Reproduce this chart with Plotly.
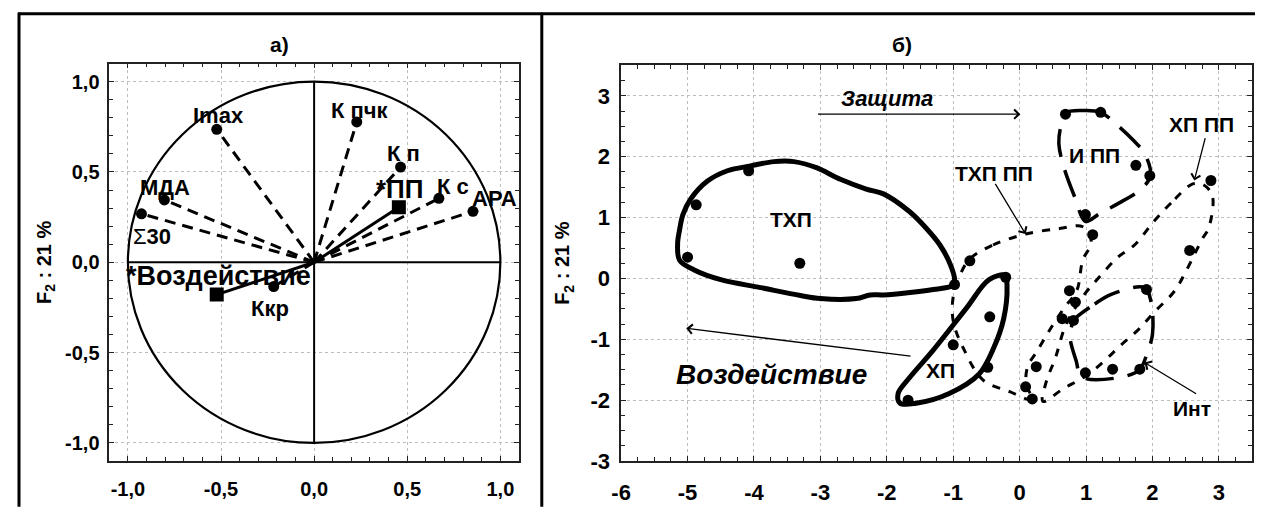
import plotly.graph_objects as go

# The page body has an 8px margin, so the figure is drawn 8px in and 8px down.
OFF = 8
W, H = 1263 - OFF, 513 - OFF
FONT = "Liberation Sans, Arial, sans-serif"

# ---------------- Left panel (a): correlation circle ----------------
var_names = ["Imax", "МДА", "Σ30", "К пчк", "К п", "К с", "АРА", "Ккр"]
var_x = [-0.523, -0.804, -0.927, 0.229, 0.464, 0.670, 0.853, -0.217]
var_y = [0.736, 0.345, 0.268, 0.777, 0.527, 0.354, 0.282, -0.134]
var_lab_x = [-0.514, -0.80, -0.87, 0.248, 0.48, 0.745, 0.967, -0.235]
var_lab_y = [0.81, 0.416, 0.143, 0.84, 0.60, 0.42, 0.354, -0.254]

sup_names = ["*ПП", "*Воздействие"]
sup_x = [0.455, -0.523]
sup_y = [0.304, -0.179]
sup_lab_x = [0.459, -0.514]
sup_lab_y = [0.405, -0.077]

left_ticks = [-1.0, -0.5, 0.0, 0.5, 1.0]
left_ticktext = ["-1,0", "-0,5", "0,0", "0,5", "1,0"]

# ---------------- Right panel (б): factor scores ----------------
pts_x = [-5.0, -4.87, -4.08, -3.31, -0.98, -0.75, -0.21, -0.45, -1.0, -0.48, -1.68,
         0.09, 0.19, 0.25, 0.64, 0.81, 0.84, 0.75, 0.99, 1.4, 1.81, 1.91, 2.56, 2.88,
         1.75, 1.96, 0.69, 1.22, 0.99, 1.1]
pts_y = [0.35, 1.21, 1.77, 0.25, -0.1, 0.29, 0.02, -0.63, -1.09, -1.46, -2.0,
         -1.78, -1.98, -1.45, -0.66, -0.69, -0.39, -0.2, -1.55, -1.49, -1.49, -0.18, 0.46, 1.61,
         1.86, 1.69, 2.70, 2.73, 1.05, 0.72]

thp_x = [-5.15, -5.12, -5.07, -4.95, -4.7, -4.4, -4.05, -3.7, -3.4, -3.06, -2.7, -2.31,
         -2.05, -1.66, -1.41, -1.2, -1.04, -0.98, -1.02, -1.3, -1.65, -2.05, -2.25, -2.46,
         -3.0, -3.3, -3.9, -4.5, -4.9, -5.12, -5.15]
thp_y = [0.57, 0.80, 1.05, 1.31, 1.6, 1.77, 1.85, 1.92, 1.92, 1.82, 1.63, 1.47,
         1.39, 1.10, 0.83, 0.55, 0.22, -0.02, -0.12, -0.18, -0.23, -0.27, -0.27, -0.33,
         -0.33, -0.28, -0.15, -0.02, 0.14, 0.30, 0.57]

hp_x = [-0.22, -0.46, -0.81, -1.31, -1.65, -1.83, -1.8, -1.56, -1.06, -0.61, -0.39, -0.24, -0.19, -0.22]
hp_y = [0.05, -0.02, -0.5, -1.19, -1.62, -1.89, -2.05, -2.05, -1.89, -1.57, -1.14, -0.66, -0.13, 0.05]

tpp_x = [-0.75, -0.4, 0.09, 0.6, 0.95, 1.08, 0.95, 0.86, 0.66, 0.45, 0.26, 0.12, 0.1, 0.2,
         -0.15, -0.55, -0.85, -1.0, -1.0, -0.9, -0.75]
tpp_y = [0.32, 0.55, 0.73, 0.82, 0.85, 0.6, 0.3, -0.2, -0.5, -0.85, -1.2, -1.45, -1.75, -2.0,
         -1.86, -1.67, -1.14, -0.7, -0.3, 0.05, 0.32]

hpp_x = [2.6, 2.28, 2.03, 1.73, 1.48, 1.18, 0.95, 0.7, 0.54, 0.4, 0.35, 0.66, 1.0, 1.28,
         1.53, 1.78, 2.03, 2.33, 2.5, 2.75, 2.85, 2.9, 2.75, 2.6]
hpp_y = [1.55, 1.24, 0.95, 0.55, 0.35, 0.0, -0.3, -0.75, -1.3, -1.7, -2.02, -1.81, -1.6, -1.35,
         -1.09, -0.85, -0.55, -0.21, 0.11, 0.65, 0.84, 1.37, 1.55, 1.55]

ipp_x = [0.69, 0.96, 1.22, 1.48, 1.73, 1.88, 1.97, 1.83, 1.48, 1.21, 0.99, 0.84, 0.66, 0.59, 0.62, 0.69]
ipp_y = [2.72, 2.76, 2.73, 2.51, 2.25, 2.06, 1.69, 1.47, 1.23, 1.07, 0.94, 1.31, 1.85, 2.22, 2.5, 2.72]

int_x = [0.81, 1.13, 1.38, 1.88, 1.98, 2.0, 1.93, 1.81, 1.53, 0.94, 0.85, 0.76, 0.78, 0.81]
int_y = [-0.69, -0.42, -0.26, -0.15, -0.39, -0.92, -1.19, -1.49, -1.62, -1.62, -1.35, -0.98, -0.8, -0.69]

grp_names = ["ТХП", "ХП", "ТХП ПП", "И ПП", "ХП ПП", "Инт"]
grp_lab_x = [-3.44, -1.19, -0.38, 1.12, 2.74, 2.6]
grp_lab_y = [0.97, -1.52, 1.72, 2.02, 2.53, -2.14]

right_xticks = [-6, -5, -4, -3, -2, -1, 0, 1, 2, 3]
right_yticks = [-3, -2, -1, 0, 1, 2, 3]


def b(t):
    return "<b>" + t + "</b>"


fig = go.Figure()

# left: vectors
for vx, vy in zip(var_x, var_y):
    fig.add_trace(go.Scatter(x=[0, vx], y=[0, vy], mode="lines",
                             line=dict(color="black", width=3, dash="11px,7px"),
                             xaxis="x", yaxis="y", hoverinfo="skip"))
for sx, sy in zip(sup_x, sup_y):
    fig.add_trace(go.Scatter(x=[0, sx], y=[0, sy], mode="lines",
                             line=dict(color="black", width=3),
                             xaxis="x", yaxis="y", hoverinfo="skip"))
fig.add_trace(go.Scatter(x=var_x, y=var_y, mode="markers",
                         marker=dict(color="black", size=11, symbol="circle"),
                         xaxis="x", yaxis="y"))
fig.add_trace(go.Scatter(x=sup_x, y=sup_y, mode="markers",
                         marker=dict(color="black", size=14, symbol="square"),
                         xaxis="x", yaxis="y"))


# right: contours
def contour(xs, ys, width, dash):
    fig.add_trace(go.Scatter(x=xs, y=ys, mode="lines",
                             line=dict(color="black", width=width, dash=dash, shape="spline", smoothing=1.0),
                             xaxis="x2", yaxis="y2", hoverinfo="skip"))


contour(thp_x, thp_y, 5, "solid")
contour(hp_x, hp_y, 5, "solid")
contour(tpp_x, tpp_y, 3, "8px,9px")
contour(hpp_x, hpp_y, 3, "8px,9px")
contour(ipp_x, ipp_y, 3.5, "28px,14px")
contour(int_x, int_y, 3.5, "28px,14px")

fig.add_trace(go.Scatter(x=pts_x, y=pts_y, mode="markers",
                         marker=dict(color="black", size=11),
                         xaxis="x2", yaxis="y2"))


def px_x(p):
    return (p - OFF) / W


def px_y(p):
    return 1 - (p - OFF) / H


shapes = []
shapes.append(dict(type="circle", xref="x", yref="y", x0=-1, y0=-1, x1=1, y1=1,
                   line=dict(color="black", width=2.2), layer="between"))
shapes.append(dict(type="line", xref="x", yref="y", x0=-1, y0=0, x1=1, y1=0,
                   line=dict(color="black", width=2), layer="between"))
shapes.append(dict(type="line", xref="x", yref="y", x0=0, y0=-1, x1=0, y1=1,
                   line=dict(color="black", width=2), layer="between"))
# outer frame
shapes.append(dict(type="line", xref="paper", yref="paper", x0=px_x(8), y0=px_y(14), x1=px_x(1263), y1=px_y(14),
                   line=dict(color="black", width=3)))
shapes.append(dict(type="line", xref="paper", yref="paper", x0=px_x(9), y0=px_y(13), x1=px_x(9), y1=px_y(520),
                   line=dict(color="black", width=3)))
shapes.append(dict(type="line", xref="paper", yref="paper", x0=px_x(536), y0=px_y(13), x1=px_x(536), y1=px_y(520),
                   line=dict(color="black", width=3)))

ann = []
txt = dict(family=FONT, color="black")
for t, lx, ly in zip(var_names, var_lab_x, var_lab_y):
    if t.startswith("Σ"):
        label = "Σ" + b(t[1:])
    else:
        label = b(t)
    ann.append(dict(x=lx, y=ly, xref="x", yref="y", text=label, showarrow=False,
                    xanchor="center", yanchor="middle", font=dict(txt, size=22)))
for t, lx, ly, sz in zip(sup_names, sup_lab_x, sup_lab_y, [26, 27]):
    ann.append(dict(x=lx, y=ly, xref="x", yref="y", text=b(t), showarrow=False,
                    xanchor="center", yanchor="middle", font=dict(txt, size=sz)))

for t, lx, ly in zip(grp_names, grp_lab_x, grp_lab_y):
    ann.append(dict(x=lx, y=ly, xref="x2", yref="y2", text=b(t), showarrow=False,
                    xanchor="center", yanchor="middle", font=dict(txt, size=21)))

ann.append(dict(x=-2.0, y=2.95, xref="x2", yref="y2", text="<b><i>Защита</i></b>", showarrow=False,
                xanchor="center", yanchor="middle", font=dict(txt, size=22)))
ann.append(dict(x=-3.74, y=-1.58, xref="x2", yref="y2", text="<b><i>Воздействие</i></b>", showarrow=False,
                xanchor="center", yanchor="middle", font=dict(txt, size=28)))


def arrow(x0, y0, x1, y1):
    ann.append(dict(x=x1, y=y1, ax=x0, ay=y0, xref="x2", yref="y2", axref="x2", ayref="y2",
                    text="", showarrow=True, arrowhead=4, arrowsize=1.4, arrowwidth=1.3,
                    arrowcolor="black"))


arrow(-3.06, 2.70, 0.01, 2.70)
arrow(-1.62, -1.28, -5.02, -0.82)
arrow(-0.38, 1.58, 0.09, 0.73)
arrow(2.8, 2.33, 2.63, 1.61)
arrow(2.68, -1.91, 1.88, -1.38)

# titles
for t, xp in zip(["а)", "б)"], [272, 899]):
    ann.append(dict(x=px_x(xp), y=px_y(45), xref="paper", yref="paper", text=b(t), showarrow=False,
                    xanchor="center", yanchor="middle", font=dict(txt, size=21)))
for xp, yp in zip([35, 558], [269, 270]):
    ann.append(dict(x=px_x(xp), y=px_y(yp), xref="paper", yref="paper", text="<b>F<sub>2</sub> : 21 %</b>",
                    textangle=-90, showarrow=False, xanchor="center", yanchor="middle",
                    font=dict(txt, size=20)))

axis_common = dict(showline=True, linecolor="#222", linewidth=1.5, mirror="allticks",
                   ticks="inside", ticklen=5, tickwidth=1.2, tickcolor="#222",
                   showgrid=True, gridcolor="#bdbdbd", griddash="dot", gridwidth=1,
                   zeroline=False, fixedrange=True)

fig.update_layout(
    width=W, height=H, margin=dict(l=0, r=0, t=0, b=0),
    paper_bgcolor="white", plot_bgcolor="white", showlegend=False,
    font=dict(family=FONT, color="black"),
    xaxis=dict(axis_common, domain=[px_x(100), px_x(513)], range=[-1.1, 1.1],
               tickvals=left_ticks, ticktext=[b(t) for t in left_ticktext],
               tickfont=dict(txt, size=20), ticklabelstandoff=9,
               minor=dict(dtick=0.1, tick0=0, ticks="inside", ticklen=4, tickcolor="#222", showgrid=False)),
    yaxis=dict(axis_common, domain=[px_y(473), px_y(65)], range=[-1.1, 1.1],
               tickvals=left_ticks, ticktext=[b(t) for t in left_ticktext],
               tickfont=dict(txt, size=20), ticklabelstandoff=4,
               minor=dict(dtick=0.1, tick0=0, ticks="inside", ticklen=4, tickcolor="#222", showgrid=False)),
    xaxis2=dict(axis_common, domain=[px_x(616), px_x(1252)], range=[-6, 3.5], anchor="y2",
                tickvals=right_xticks, ticktext=[b(str(v)) for v in right_xticks],
                tickfont=dict(txt, size=22), ticklabelstandoff=11,
                minor=dict(dtick=0.25, tick0=0, ticks="inside", ticklen=4, tickcolor="#222", showgrid=False)),
    yaxis2=dict(axis_common, domain=[px_y(473), px_y(67)], range=[-3, 3.5], anchor="x2",
                tickvals=right_yticks, ticktext=[b(str(v)) for v in right_yticks],
                tickfont=dict(txt, size=22), ticklabelstandoff=5,
                minor=dict(dtick=0.25, tick0=0, ticks="inside", ticklen=4, tickcolor="#222", showgrid=False)),
    shapes=shapes, annotations=ann,
)

fig.write_html("out.html")
